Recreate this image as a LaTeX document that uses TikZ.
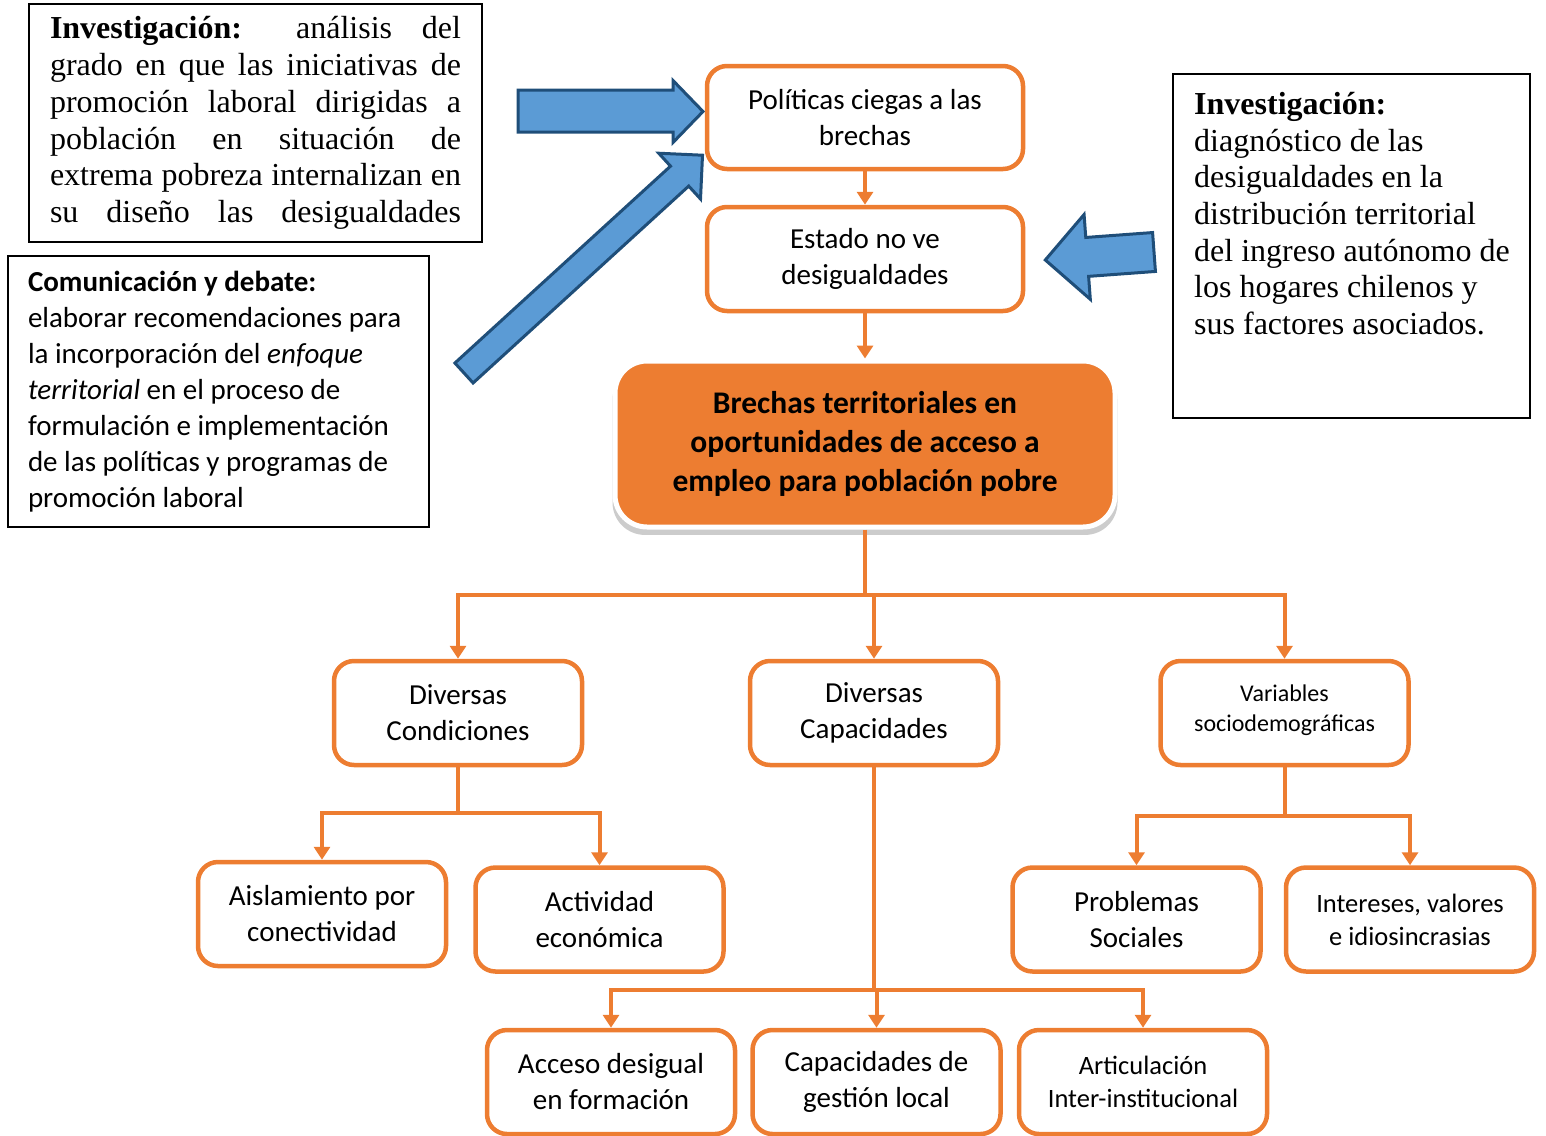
\documentclass[tikz,border=0pt]{standalone}
\usepackage{fontspec}
\setmainfont{Carlito}
\newfontfamily\tnr{Liberation Serif}
\usetikzlibrary{arrows.meta,shadows}

\definecolor{naranja}{HTML}{ED7D31}
\definecolor{azul}{HTML}{5B9BD5}
\definecolor{azulosc}{HTML}{1F4E79}

\newcommand{\lj}[1]{\makebox[411pt][s]{#1}}

\tikzstyle{c1} = [rectangle, draw=naranja, line width=4.5pt, rounded corners=20pt, fill=white, align=center, minimum width=248pt, minimum height=104pt, font=\fontsize{29}{36}\selectfont]
\tikzstyle{c2} = [rectangle, fill=naranja, draw=white, line width=5pt, rounded corners=32pt, align=center, font=\bfseries\fontsize{31.5}{39}\selectfont, drop shadow={shadow xshift=0pt, shadow yshift=-7pt, shadow scale=1.01, fill=black!40}]
\tikzstyle{t1} = [rectangle, draw, line width=1.5pt, inner sep=0pt]
\tikzstyle{l0} = [draw=naranja, line width=4pt]
\tikzstyle{l1} = [l0, -{Triangle[width=16pt,length=13pt]}]
\tikzstyle{fl} = [fill=azul, draw=azulosc, line width=3pt, line join=miter]

\begin{document}
\begin{tikzpicture}[x=1pt, y=-1pt]
    \clip (0,0) rectangle (1546,1135);

    % cuadros de texto
    \node[t1, minimum width=453pt, minimum height=238pt, align=left,
      font=\tnr\fontsize{32}{36.8}\selectfont] (inv1) at (255.5,123)
      {\lj{\textbf{Investigación:} análisis del}\\
        \lj{grado en que las iniciativas de}\\
        \lj{promoción laboral dirigidas a}\\
        \lj{población en situación de}\\
        \lj{extrema pobreza internalizan en}\\
        \lj{su diseño las desigualdades}};
    \node[t1, minimum width=421pt, minimum height=271pt, text width=381pt, align=flush left,
      font=\fontsize{29}{36}\selectfont] (com) at (218.5,391.5)
      {\textbf{Comunicación y debate:}\\
        elaborar recomendaciones para\\
        la incorporación del \textit{enfoque}\\
        \textit{territorial} en el proceso de\\
        formulación e implementación\\
        de las políticas y programas de\\
        promoción laboral};
    \node[t1, minimum width=357pt, minimum height=344pt] (inv2) at (1351.5,246) {};
    \node[anchor=north west, inner sep=0pt, align=left,
      font=\tnr\fontsize{32}{36.7}\selectfont] (inv2t) at (1194,92)
      {\textbf{Investigación:}\\
        diagnóstico de las\\
        desigualdades en la\\
        distribución territorial\\
        del ingreso autónomo de\\
        los hogares chilenos y\\
        sus factores asociados.};

    % flechas azules
    \draw[fl] (518,90) -- (673,90) -- (673,80.5) -- (703,111.5) -- (673,142.5)
      -- (673,132) -- (518,132) -- cycle;
    \draw[fl, shift={(464,373)}, rotate=42.4] (0,-13.5) -- (292,-13.5) -- (292,-31)
      -- (323,0) -- (292,31) -- (292,13.5) -- (0,13.5) -- cycle;
    \draw[fl, shift={(1154,252)}, rotate=184.2] (0,-19.5) -- (67,-19.5) -- (67,-42.5)
      -- (109,0) -- (67,42.5) -- (67,19.5) -- (0,19.5) -- cycle;

    % cadena superior
    \node[c1, minimum width=316pt, minimum height=103pt] (pol) at (865,117.5)
      {Políticas ciegas a las\\brechas};
    \node[c1, minimum width=316pt, minimum height=104pt] (est) at (865,259)
      {Estado no ve\\desigualdades};
    \node[c2, minimum width=500pt, minimum height=166pt] (cen) at (865,444)
      {Brechas territoriales en\\oportunidades de acceso a\\empleo para población pobre};

    % segundo nivel
    \node[c1] (dcon) at (458,713) {Diversas\\Condiciones};
    \node[c1] (dcap) at (874,713) {Diversas\\Capacidades};
    \node[c1, font=\fontsize{24}{30}\selectfont] (var) at (1284.5,713)
      {Variables\\sociodemográficas\\[-20pt]};

    % tercer nivel
    \node[c1] (ais) at (322,914) {Aislamiento por\\conectividad};
    \node[c1] (act) at (599.5,919.5) {Actividad\\económica};
    \node[c1] (pro) at (1136.5,919.5) {Problemas\\Sociales};
    \node[c1, font=\fontsize{26.5}{33}\selectfont] (int) at (1410,919.5)
      {Intereses, valores\\e idiosincrasias};
    \node[c1] (acc) at (611,1082) {Acceso desigual\\en formación};
    \node[c1] (ges) at (876.5,1082) {Capacidades de\\gestión local};
    \node[c1, font=\fontsize{26.5}{33}\selectfont] (art) at (1143,1082)
      {Articulación\\Inter-institucional};

    % conectores
    \draw[l1] (pol) -- (est);
    \draw[l1] (est) -- (cen);

    \coordinate (r1) at (865,595);
    \draw[l0] (cen) -- (r1);
    \draw[l1] (r1) -| (dcon);
    \draw[l1] (r1) -| (dcap);
    \draw[l1] (r1) -| (var);

    \coordinate (r2) at (458,813);
    \draw[l0] (dcon) -- (r2);
    \draw[l1] (r2) -| (ais);
    \draw[l1] (r2) -| (act);

    \coordinate (r3) at (1284.5,816);
    \draw[l0] (var) -- (r3);
    \draw[l1] (r3) -| (pro);
    \draw[l1] (r3) -| (int);

    \coordinate (r4) at (874,990);
    \draw[l0] (dcap) -- (r4);
    \draw[l1] (r4) -| (acc);
    \draw[l1] (r4) -| (ges);
    \draw[l1] (r4) -| (art);
\end{tikzpicture}
\end{document}
